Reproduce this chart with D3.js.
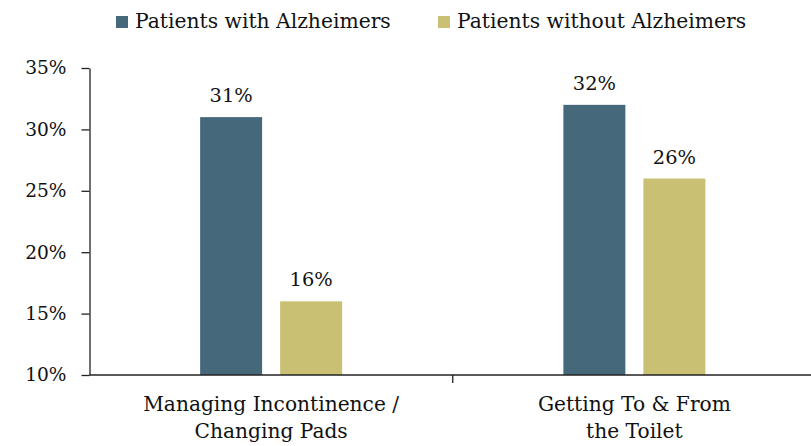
<!DOCTYPE html>
<html>
<head>
<meta charset="utf-8">
<script src="https://cdn.jsdelivr.net/npm/d3@7"></script>
<style>
  html, body { margin: 0; padding: 0; background: #fff; }
  svg { display: block; }
  text { font-family: "DejaVu Serif", "Liberation Serif", serif; fill: #111; }
</style>
</head>
<body>
<svg id="chart" width="811" height="446"></svg>
<script>
// Share of caregivers helping with each toileting task
const categories = [
  ["Managing Incontinence /", "Changing Pads"],
  ["Getting To & From", "the Toilet"]
];
const seriesNames = ["Patients with Alzheimers", "Patients without Alzheimers"];
const withAlz = [31, 32];
const withoutAlz = [16, 26];
const yTicks = [10, 15, 20, 25, 30, 35];
const colors = ["#46687b", "#c9c073"];

const svg = d3.select("#chart");
const plotLeft = 89.5, plotRight = 816, plotTop = 68, plotBottom = 375;

const catKeys = categories.map(c => c.join(" "));
const seriesVals = [withAlz, withoutAlz];

const x0 = d3.scaleBand().domain(catKeys).range([plotLeft, plotRight]).padding(0);
const y = d3.scaleLinear().domain([10, 35]).range([plotBottom, plotTop]);

// Bars: pair of series inside each category band
const groupW = 142;
const x1 = d3.scaleBand().domain(seriesNames).range([0, groupW]).paddingInner(0.2254).paddingOuter(0);

const groups = svg.append("g").selectAll("g")
  .data(catKeys)
  .join("g")
  .attr("transform", d => `translate(${x0(d) + x0.bandwidth() / 2 - groupW / 2},0)`);

groups.each(function(cat, ci) {
  const g = d3.select(this);
  seriesNames.forEach((s, si) => {
    const v = seriesVals[si][ci];
    g.append("rect")
      .attr("x", x1(s))
      .attr("y", y(v))
      .attr("width", x1.bandwidth())
      .attr("height", y(10) - y(v))
      .attr("fill", colors[si]);
    g.append("text")
      .attr("x", x1(s) + x1.bandwidth() / 2)
      .attr("y", y(v) - 15)
      .attr("text-anchor", "middle")
      .style("font-size", "19.4px")
      .text(v + "%");
  });
});

// Y axis
const yAxis = d3.axisLeft(y)
  .tickValues(yTicks)
  .tickFormat(d => d + "%")
  .tickSize(8)
  .tickSizeOuter(0)
  .tickPadding(15);
const yg = svg.append("g").attr("transform", `translate(${plotLeft},0)`).call(yAxis);
yg.select(".domain").attr("stroke", "#222").attr("stroke-width", 1.3);
yg.selectAll(".tick line").attr("stroke", "#222").attr("stroke-width", 1.3);
yg.selectAll(".tick text")
  .style("font-family", '"DejaVu Serif", serif')
  .style("font-size", "18.6px")
  .attr("fill", "#111");

// X axis: baseline with a divider tick between categories
const xg = svg.append("g").attr("transform", `translate(0,${plotBottom})`);
xg.append("line")
  .attr("x1", plotLeft).attr("x2", plotRight)
  .attr("stroke", "#222").attr("stroke-width", 1.3);
xg.selectAll(".divider")
  .data(catKeys.slice(1))
  .join("line")
  .attr("class", "divider")
  .attr("x1", d => x0(d)).attr("x2", d => x0(d))
  .attr("y1", 0).attr("y2", 8)
  .attr("stroke", "#222").attr("stroke-width", 1.3);

// Category labels (two lines each)
categories.forEach((lines, i) => {
  const cx = x0(catKeys[i]) + x0.bandwidth() / 2;
  const t = svg.append("text")
    .attr("text-anchor", "middle")
    .style("font-size", "20.2px");
  lines.forEach((ln, li) => {
    t.append("tspan").attr("x", cx).attr("y", 411 + li * 27).text(ln);
  });
});

// Legend
const legendPos = [116, 438];
seriesNames.forEach((s, i) => {
  const lg = svg.append("g").attr("transform", `translate(${legendPos[i]},0)`);
  lg.append("rect").attr("x", 0).attr("y", 16).attr("width", 12).attr("height", 12).attr("fill", colors[i]);
  lg.append("text").attr("x", 19).attr("y", 28).style("font-size", "20.3px").text(s);
});
</script>
</body>
</html>
